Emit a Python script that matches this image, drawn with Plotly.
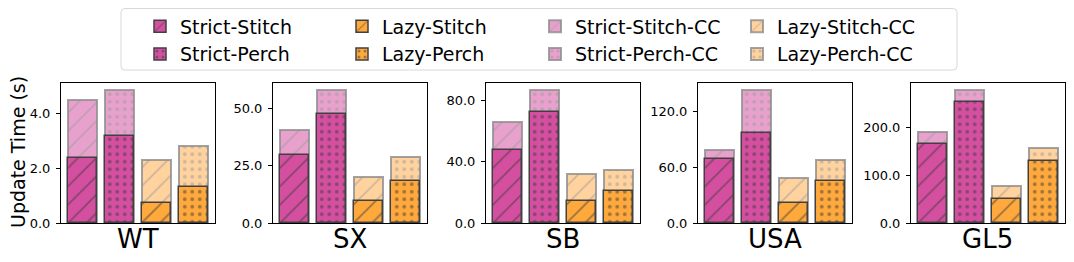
import plotly.graph_objects as go

datasets = ["WT", "SX", "SB", "USA", "GL5"]
series = ["Strict-Stitch", "Strict-Perch", "Lazy-Stitch", "Lazy-Perch"]

wt_base = [2.39, 3.19, 0.73, 1.32]
wt_cc = [4.48, 4.87, 2.29, 2.82]
sx_base = [29.8, 47.3, 9.6, 18.4]
sx_cc = [40.5, 58.1, 19.9, 28.7]
sb_base = [47.4, 72.2, 14.2, 20.9]
sb_cc = [65.8, 86.9, 32.1, 34.5]
usa_base = [69.1, 96.8, 21.1, 45.2]
usa_cc = [78.8, 144.0, 48.7, 68.4]
gl5_base = [164.6, 252.5, 50.4, 129.3]
gl5_cc = [189.5, 278.0, 76.8, 155.7]

base_vals = [wt_base, sx_base, sb_base, usa_base, gl5_base]
cc_vals = [wt_cc, sx_cc, sb_cc, usa_cc, gl5_cc]
tick_vals = [[0, 2, 4], [0, 25, 50], [0, 40, 80], [0, 60, 120], [0, 100, 200]]

base_colors = ["#d44fa0", "#d44fa0", "#ffa83c", "#ffa83c"]
cc_colors = ["#e8a1cc", "#e8a1cc", "#ffd29e", "#ffd29e"]
shapes_pat = ["/", ".", "/", "."]
base_legend = ["legend", "legend", "legend2", "legend2"]
cc_legend = ["legend3", "legend3", "legend4", "legend4"]

# page has an 8px body margin: the figure is offset by it, so work in window
# pixel coordinates and convert
OFF = 8
W, H = 1074 - OFF, 262 - OFF


def px(x):
    return (x - OFF) / W


def py(y):
    return 1 - (y - OFF) / H


left_px = [61, 273, 486, 698, 911]
panel_w = 154
top_px, bot_px = 83, 223

fig = go.Figure()
font_fam = "DejaVu Sans"


def pat(shape, fg):
    if shape == "/":
        return dict(shape="/", fgcolor=fg, size=13, solidity=0.14)
    return dict(shape=".", fgcolor=fg, size=7.5, solidity=0.2)


for p in range(5):
    ax = "" if p == 0 else str(p + 1)
    for i, s in enumerate(series):
        fig.add_trace(go.Bar(
            x=[i], y=[cc_vals[p][i]], width=0.8,
            name=s + "-CC", legend=cc_legend[i], legendrank=i,
            showlegend=(p == 0),
            marker=dict(color=cc_colors[i],
                        line=dict(color="rgba(140,140,140,0.8)", width=2),
                        pattern=pat(shapes_pat[i], "#9a9a9a")),
            xaxis="x" + ax, yaxis="y" + ax))
    for i, s in enumerate(series):
        fig.add_trace(go.Bar(
            x=[i], y=[base_vals[p][i]], width=0.8,
            name=s, legend=base_legend[i], legendrank=i,
            showlegend=(p == 0),
            marker=dict(color=base_colors[i],
                        line=dict(color="#404040", width=1.5),
                        pattern=pat(shapes_pat[i], "#3a3a3a")),
            xaxis="x" + ax, yaxis="y" + ax))

layout = dict(
    width=W, height=H, margin=dict(l=0, r=0, t=0, b=0, autoexpand=False),
    paper_bgcolor="white", plot_bgcolor="white",
    barmode="overlay", bargap=0,
    font=dict(family=font_fam, color="black"),
)
y0 = py(bot_px)
y1 = py(top_px)
annotations = []
for p in range(5):
    ax = "" if p == 0 else str(p + 1)
    x0 = px(left_px[p])
    x1 = px(left_px[p] + panel_w)
    ymax = max(cc_vals[p] + base_vals[p]) * 1.05
    layout["xaxis" + ax] = dict(domain=[x0, x1], range=[-0.59, 3.59],
                                showticklabels=False, ticks="", showgrid=False,
                                zeroline=False, showline=True, mirror=True,
                                linecolor="black", linewidth=1,
                                anchor="y" + ax)
    layout["yaxis" + ax] = dict(domain=[y0, y1], range=[0, ymax],
                                tickvals=tick_vals[p], tickformat=".1f",
                                ticks="outside", ticklen=4, tickwidth=1,
                                tickcolor="black", showgrid=False,
                                zeroline=False, showline=True, mirror=True,
                                linecolor="black", linewidth=1,
                                ticklabelstandoff=3,
                                tickfont=dict(size=13, family=font_fam),
                                anchor="x" + ax)
    annotations.append(dict(text=datasets[p], x=(x0 + x1) / 2, y=py(239),
                            xref="paper", yref="paper", showarrow=False,
                            font=dict(size=26, family=font_fam),
                            xanchor="center", yanchor="middle"))
annotations.append(dict(text="Update Time (s)", x=px(18), y=py(152),
                        xref="paper", yref="paper", showarrow=False,
                        textangle=-90, font=dict(size=19, family=font_fam),
                        xanchor="center", yanchor="middle"))
layout["annotations"] = annotations

leg_x = [140, 342, 535, 737]
for k, name in enumerate(["legend", "legend2", "legend3", "legend4"]):
    layout[name] = dict(x=px(leg_x[k]), y=py(7.5), xanchor="left", yanchor="top",
                        xref="paper", yref="paper",
                        orientation="v", bgcolor="rgba(0,0,0,0)",
                        font=dict(size=19, family=font_fam),
                        tracegroupgap=0, itemwidth=30)

# rounded legend frame
bx0, bx1, by0, by1, r = 121, 957, 8.5, 70, 4
path = (f"M {px(bx0 + r)},{py(by0)} L {px(bx1 - r)},{py(by0)} "
        f"Q {px(bx1)},{py(by0)} {px(bx1)},{py(by0 + r)} L {px(bx1)},{py(by1 - r)} "
        f"Q {px(bx1)},{py(by1)} {px(bx1 - r)},{py(by1)} L {px(bx0 + r)},{py(by1)} "
        f"Q {px(bx0)},{py(by1)} {px(bx0)},{py(by1 - r)} L {px(bx0)},{py(by0 + r)} "
        f"Q {px(bx0)},{py(by0)} {px(bx0 + r)},{py(by0)} Z")
layout["shapes"] = [dict(type="path", xref="paper", yref="paper", path=path,
                         line=dict(color="#d8d8d8", width=1), fillcolor="rgba(0,0,0,0)")]

fig.update_layout(**layout)
fig.write_html("out.html")
